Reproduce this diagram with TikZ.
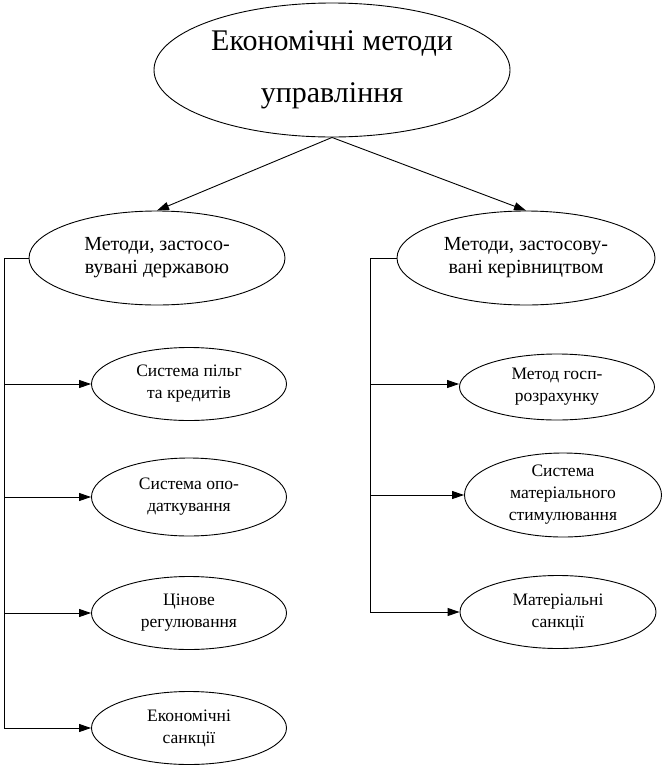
\documentclass[tikz,border=0pt]{standalone}
\usepackage{fontspec}
\setmainfont{Liberation Serif}
\usetikzlibrary{shapes.geometric,arrows.meta}
\begin{document}
\begin{tikzpicture}[x=1pt,y=-1pt,
  ell/.style={draw,ellipse,line width=0.9pt,inner sep=0pt,align=center},
  topell/.style={ell,minimum width=356pt,minimum height=134pt,font=\fontsize{30}{52}\selectfont},
  midell/.style={ell,minimum width=256pt,minimum height=94pt,font=\fontsize{20}{23}\selectfont},
  leaf/.style={ell,minimum width=195pt,minimum height=73pt,font=\fontsize{17.5}{22}\selectfont},
  conn/.style={line width=0.9pt},
  arr/.style={conn,-{Triangle[length=12pt,width=8pt]}}]
\useasboundingbox (0,0) rectangle (670,769);
\node[topell] (top) at (332,70) {Економічні методи\\управління};
\node[midell] (L) at (157,258) {Методи, застосо-\\вувані державою};
\node[midell,minimum width=258pt] (R) at (526,258) {Методи, застосову-\\вані керівництвом};
\node[leaf] (l1) at (189,384) {Система пільг\\та кредитів};
\node[leaf,minimum height=78pt] (l2) at (189,497) {Система опо-\\даткування};
\node[leaf] (l3) at (189,613) {Цінове\\регулювання};
\node[leaf] (l4) at (189,728) {Економічні\\санкції};
\node[leaf,minimum height=66pt] (r1) at (557,387) {Метод госп-\\розрахунку};
\node[leaf,minimum width=197pt,minimum height=84pt] (r2) at (563,495) {Система\\матеріального\\стимулювання};
\node[leaf,minimum width=196pt] (r3) at (558,612) {Матеріальні\\санкції};
\draw[arr] (top.south) -- (L.north);
\draw[arr] (top.south) -- (R.north);
\coordinate (lb) at (4,258);
\coordinate (rb) at (370,258);
\draw[conn] (L.west) -- (lb) -- (lb |- l4.west);
\foreach \c in {l1,l2,l3,l4} \draw[arr] (lb |- \c.west) -- (\c.west);
\draw[conn] (R.west) -- (rb) -- (rb |- r3.west);
\draw[arr] (rb |- 0,384) -- (r1.west |- 0,384);
\draw[arr] (rb |- r2.west) -- (r2.west);
\draw[arr] (rb |- r3.west) -- (r3.west);
\end{tikzpicture}
\end{document}
